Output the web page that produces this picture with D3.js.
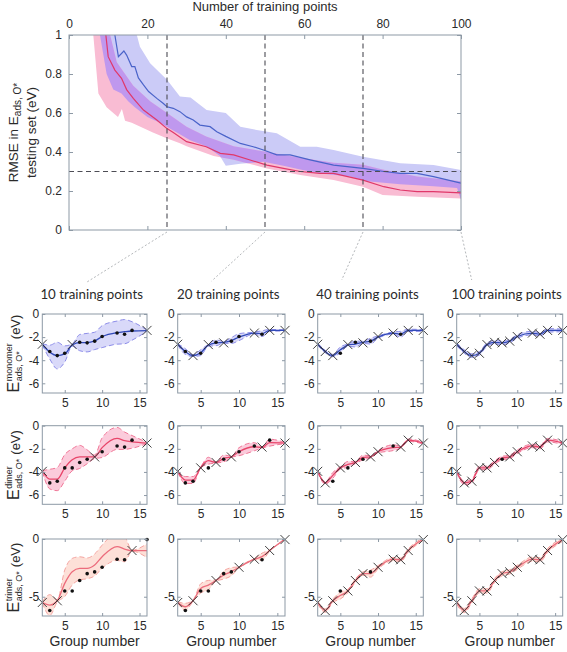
<!DOCTYPE html>
<html><head><meta charset="utf-8">
<script src="https://cdn.jsdelivr.net/npm/d3@7"></script>
<style>body{margin:0;background:#fff}svg{display:block}</style>
</head><body>
<svg id="c" width="567" height="652"></svg>
<script>
// ---------------- DATA: top chart (RMSE vs number of training points) ----------------
const topXTicks = [0, 20, 40, 60, 80, 100];
const topYTicks = [0, 0.2, 0.4, 0.6, 0.8, 1];
const markerN = [25, 50, 75, 100];
const targetRMSE = 0.3;

const blueX = [11.7,12.6,14,14.7,16,16.8,17.7,19,20.3,22.4,24,25,26.6,28.3,30,31.7,33.4,36,37.7,40,43.7,47,49.6,53,56.4,61.5,67.5,75,80.3,84.5,88.8,93,100];
const blueY = [1.0,0.889,0.918,0.897,0.838,0.838,0.78,0.744,0.71,0.675,0.65,0.632,0.624,0.607,0.58,0.564,0.538,0.53,0.504,0.48,0.444,0.427,0.41,0.385,0.385,0.36,0.333,0.316,0.3,0.29,0.29,0.274,0.24];
const redX = [9.4,10,11.7,13.4,14.7,16.4,19,22.4,25,26.6,30,35,38.6,42,46.2,50.5,54.7,59,64,67.5,75,80.3,84.5,88.8,93,100];
const redY = [1.0,0.889,0.82,0.778,0.72,0.675,0.615,0.564,0.52,0.5,0.453,0.427,0.393,0.385,0.359,0.333,0.316,0.3,0.29,0.29,0.256,0.222,0.205,0.197,0.197,0.19];

const blueUpX = [7.9,17.3,18.1,20.7,25,28.3,31,35.1,40,43.7,47.9,53,59,63.2,67.5,75,84.5,93,100];
const blueUpY = [1.02,1.0,0.94,0.855,0.77,0.684,0.68,0.615,0.6,0.53,0.513,0.496,0.427,0.427,0.41,0.376,0.342,0.333,0.308];
const blueLoX = [7.9,9.6,11.3,13.4,15.1,16.8,20,23.2,27.5,30.9,35,38.5,40,43.7,49.6,54.7,59,64,71.7,76,84.5,93,99,100];
const blueLoY = [1.0,0.8,0.72,0.7,0.66,0.63,0.58,0.55,0.5,0.46,0.43,0.38,0.33,0.34,0.35,0.33,0.31,0.29,0.275,0.25,0.235,0.225,0.215,0.155];
const pinkUpX = [6.2,10.5,12.2,16.4,20.7,25,30,35,42,50.5,59,67.5,75,80,88.8,100];
const pinkUpY = [1.02,1.0,0.86,0.74,0.66,0.6,0.53,0.48,0.43,0.4,0.37,0.345,0.335,0.31,0.275,0.25];
const pinkLoX = [6.2,7.5,9.6,11.3,12.5,13.5,14.3,16,21.4,24.9,28.3,30,36.9,42,50.5,59,67.5,75,80,88.8,100];
const pinkLoY = [1.0,0.7,0.63,0.6,0.58,0.62,0.56,0.55,0.5,0.47,0.445,0.43,0.38,0.36,0.316,0.282,0.256,0.222,0.18,0.171,0.162];

// ---------------- DATA: small panels ----------------
const groups = [2,3,4,5,6,7,8,9,10,12,13,14,16];
const xTicksSmall = [5, 10, 15];
const panelTitles = ["10 training points","20 training points","40 training points","100 training points"];
const rowNames = ["monomer","dimer","trimer"];

const monomerTrue = [-2.62,-3.25,-3.6,-3.4,-2.65,-2.45,-2.5,-2.35,-1.95,-1.65,-1.75,-1.42,-1.42];
const dimerTrue   = [-3.95,-4.95,-4.8,-3.65,-3.65,-3.18,-2.9,-2.7,-2.25,-1.75,-1.85,-1.25,-1.5];
const trimerTrue  = [-5.5,-6.2,-5.35,-4.5,-4.5,-3.6,-3.0,-2.85,-2.45,-1.75,-1.8,-1.0,-0.05];

const monoTrain10 = [2,6,16];
const monoTrain20 = [2,4,6,8,12,14,16];
const monoTrain40 = [2,3,4,6,8,10,12,14,16];
const monoTrain100 = [2,3,4,5,6,7,8,9,10,12,13,14,16];
const dimerTrain10 = [2,9,16];
const dimerTrain20 = [2,5,7,9,13,16];
const dimerTrain40 = [2,3,5,7,9,10,13,14,16];
const dimerTrain100 = [2,3,4,5,6,7,9,10,12,13,14,16];
const trimerTrain10 = [2,4,14];
const trimerTrain20 = [2,4,7,10,12,14,16];
const trimerTrain40 = [2,3,4,6,7,8,10,12,13,14,16];
const trimerTrain100 = [2,3,4,5,6,7,8,9,10,12,13,14,16];

const monoMean10 = [-2.62,-3.3,-3.6,-3.46,-2.68,-2.48,-2.48,-2.33,-1.96,-1.61,-1.53,-1.47,-1.44];
const monoSd10   = [0.05,0.6,1.15,0.7,0.1,0.7,0.8,0.75,0.95,1.0,1.05,0.8,0.05];
const monoMean20 = [-2.62,-3.25,-3.6,-3.35,-2.7,-2.5,-2.45,-2.3,-2.0,-1.65,-1.7,-1.42,-1.42];
const monoSd20   = [0.05,0.25,0.08,0.25,0.08,0.25,0.08,0.25,0.3,0.08,0.25,0.08,0.05];
const monoMean40 = [-2.62,-3.25,-3.6,-3.1,-2.7,-2.6,-2.45,-2.35,-2.0,-1.65,-1.75,-1.42,-1.42];
const monoSd40   = [0.08,0.1,0.1,0.25,0.1,0.25,0.1,0.25,0.1,0.1,0.25,0.1,0.08];
const monoMean100 = [-2.62,-3.25,-3.6,-3.4,-2.65,-2.45,-2.5,-2.35,-1.95,-1.65,-1.75,-1.42,-1.42];
const monoSd100   = [0.12,0.15,0.15,0.15,0.15,0.15,0.15,0.15,0.15,0.15,0.15,0.15,0.12];

const dimerMean10 = [-3.93,-4.62,-4.62,-3.65,-2.95,-2.7,-2.69,-2.69,-1.9,-1.1,-1.3,-1.4,-1.5];
const dimerSd10   = [0.05,0.85,1.0,1.15,0.95,1.0,0.6,0.15,0.85,0.95,0.75,0.55,0.05];
const dimerMean20 = [-3.95,-4.7,-4.7,-3.61,-3.03,-3.18,-2.83,-2.69,-2.25,-1.82,-1.88,-1.47,-1.5];
const dimerSd20   = [0.05,0.3,0.3,0.05,0.3,0.05,0.3,0.05,0.35,0.35,0.05,0.3,0.05];
const dimerMean40 = [-3.95,-4.95,-4.3,-3.65,-3.35,-3.18,-2.75,-2.69,-2.25,-1.9,-1.85,-1.25,-1.5];
const dimerSd40   = [0.08,0.1,0.25,0.1,0.25,0.1,0.2,0.1,0.1,0.25,0.1,0.1,0.08];
const dimerMean100 = [-3.95,-4.95,-4.8,-3.65,-3.65,-3.18,-2.8,-2.7,-2.25,-1.75,-1.85,-1.25,-1.5];
const dimerSd100   = [0.12,0.15,0.15,0.15,0.15,0.15,0.15,0.15,0.15,0.15,0.15,0.15,0.12];

const trimerMean10 = [-5.49,-5.72,-5.35,-3.84,-2.83,-2.54,-2.54,-2.25,-1.53,-0.66,-0.87,-1.01,-1.01];
const trimerSd10   = [0.05,0.9,0.1,1.15,1.15,1.0,0.9,0.95,1.0,1.2,1.1,0.05,0.6];
const trimerMean20 = [-5.5,-5.87,-5.35,-4.28,-3.99,-3.6,-3.12,-2.83,-2.45,-1.75,-1.53,-1.0,0.0];
const trimerSd20   = [0.05,0.3,0.05,0.4,0.4,0.05,0.35,0.35,0.05,0.05,0.3,0.05,0.05];
const trimerMean40 = [-5.5,-6.2,-5.35,-4.9,-4.5,-3.6,-3.0,-3.0,-2.45,-1.75,-1.8,-1.0,0.0];
const trimerSd40   = [0.12,0.15,0.15,0.3,0.15,0.15,0.15,0.3,0.15,0.15,0.15,0.15,0.12];
const trimerMean100 = [-5.5,-6.2,-5.35,-4.5,-4.5,-3.6,-3.0,-2.85,-2.45,-1.75,-1.8,-1.0,-0.05];
const trimerSd100   = [0.15,0.18,0.18,0.18,0.18,0.18,0.18,0.18,0.18,0.18,0.18,0.18,0.15];

// ---------------- DRAWING ----------------
const svg = d3.select('#c');
const FONT = "'Liberation Sans', Arial, sans-serif";
const FRAME = '#8d99a5';
const TXT = '#2a2a2a';
const defs = svg.append('defs');
const num = d => String(d);

// ---- top chart ----
const T = {l:69, r:461, t:35, b:230};
const xT = d3.scaleLinear().domain([0,100]).range([T.l, T.r]);
const yT = d3.scaleLinear().domain([0,1]).range([T.b, T.t]);
defs.append('clipPath').attr('id','clipTop').append('rect')
  .attr('x',T.l).attr('y',T.t).attr('width',T.r-T.l).attr('height',T.b-T.t);
const zip = (a,b) => a.map((v,i)=>[v,b[i]]);
const lineT = d3.line().x(d=>xT(d[0])).y(d=>yT(d[1]));
const band = (ux,uy,lx,ly) => lineT(zip(ux,uy).concat(zip(lx,ly).reverse())) + 'Z';
const bluePath = band(blueUpX,blueUpY,blueLoX,blueLoY);
const pinkPath = band(pinkUpX,pinkUpY,pinkLoX,pinkLoY);
defs.append('clipPath').attr('id','clipBlue').append('path').attr('d',bluePath);

const gTop = svg.append('g').attr('clip-path','url(#clipTop)');
gTop.append('path').attr('d',bluePath).attr('fill','#cbcbf7');
gTop.append('path').attr('d',pinkPath).attr('fill','#f9bcd3');
gTop.append('g').attr('clip-path','url(#clipBlue)')
  .append('path').attr('d',pinkPath).attr('fill','#bf98ee');
gTop.append('path').attr('d',lineT(zip(redX,redY))).attr('fill','none')
  .attr('stroke','#e0386a').attr('stroke-width',1.2);
gTop.append('path').attr('d',lineT(zip(blueX,blueY))).attr('fill','none')
  .attr('stroke','#4a63c9').attr('stroke-width',1.2);

// dashed guide lines
const dashCol = '#4d4d55';
markerN.filter(n=>n<100).forEach(n=>{
  svg.append('line').attr('x1',xT(n)).attr('x2',xT(n)).attr('y1',yT(1)).attr('y2',yT(0))
    .attr('stroke',dashCol).attr('stroke-width',1.1).attr('stroke-dasharray','5,3.5');
});
svg.append('line').attr('x1',xT(0)).attr('x2',xT(100)).attr('y1',yT(targetRMSE)).attr('y2',yT(targetRMSE))
  .attr('stroke',dashCol).attr('stroke-width',1.1).attr('stroke-dasharray','5,3.5');

// axes
function styleAxis(g){
  g.select('.domain').remove();
  g.selectAll('.tick line').attr('stroke',FRAME);
  g.selectAll('.tick text').attr('fill',TXT).attr('font-family',FONT).attr('font-size',12);
}
svg.append('g').attr('transform',`translate(0,${T.t})`)
  .call(d3.axisTop(xT).tickValues(topXTicks).tickSize(-4).tickPadding(7).tickFormat(num)).call(styleAxis);
svg.append('g').attr('transform',`translate(0,${T.b})`)
  .call(d3.axisBottom(xT).tickValues(topXTicks).tickSize(-4).tickFormat('')).call(styleAxis);
svg.append('g').attr('transform',`translate(${T.l},0)`)
  .call(d3.axisLeft(yT).tickValues(topYTicks).tickSize(-4).tickPadding(7).tickFormat(num)).call(styleAxis);
svg.append('g').attr('transform',`translate(${T.r},0)`)
  .call(d3.axisRight(yT).tickValues(topYTicks).tickSize(-4).tickFormat('')).call(styleAxis);
svg.append('rect').attr('x',T.l).attr('y',T.t).attr('width',T.r-T.l).attr('height',T.b-T.t)
  .attr('fill','none').attr('stroke',FRAME).attr('stroke-width',1);

svg.append('text').attr('x',(T.l+T.r)/2).attr('y',11).attr('text-anchor','middle')
  .attr('font-family',FONT).attr('font-size',13).attr('fill',TXT).text('Number of training points');

const yl = svg.append('g').attr('transform',`translate(0,${(T.t+T.b)/2}) rotate(-90)`);
const yl1 = yl.append('text').attr('x',0).attr('y',18).attr('text-anchor','middle')
  .attr('font-family',FONT).attr('font-size',13.5).attr('fill',TXT);
yl1.append('tspan').text('RMSE in E');
yl1.append('tspan').attr('dy',3).attr('font-size',10).text('ads, O*');
yl.append('text').attr('x',0).attr('y',36).attr('text-anchor','middle')
  .attr('font-family',FONT).attr('font-size',13.5).attr('fill',TXT).text('testing set (eV)');

// ---- small panels layout ----
const panelCols = [[42.3,147],[177.7,285],[317.7,423.3],[456.7,562.7]];
const panelRows = [[314,393],[425.7,504.3],[539,616]];
const rowDomains = [[-6.84,0],[-6.8,0],[-6.67,0]];
const rowYTicks = [[0,-2,-4,-6],[0,-2,-4,-6],[0,-5]];
const rowStyles = [
  {fill:'#d9d9f9', edge:'#8c8ce8', line:'#3149b8'},
  {fill:'#fbcbdb', edge:'#f07898', line:'#e8456a'},
  {fill:'#fde0d8', edge:'#f4a4a0', line:'#ec6c7c'}
];
const trueVals = [monomerTrue, dimerTrue, trimerTrue];
const trainSets = [
  [monoTrain10, monoTrain20, monoTrain40, monoTrain100],
  [dimerTrain10, dimerTrain20, dimerTrain40, dimerTrain100],
  [trimerTrain10, trimerTrain20, trimerTrain40, trimerTrain100]
];
const means = [
  [monoMean10, monoMean20, monoMean40, monoMean100],
  [dimerMean10, dimerMean20, dimerMean40, dimerMean100],
  [trimerMean10, trimerMean20, trimerMean40, trimerMean100]
];
const sds = [
  [monoSd10, monoSd20, monoSd40, monoSd100],
  [dimerSd10, dimerSd20, dimerSd40, dimerSd100],
  [trimerSd10, trimerSd20, trimerSd40, trimerSd100]
];

// connectors from the top chart to panel titles
const titleY = 299;
const connectorEnds = [[87,282],[211.7,281],[341.7,280],[471.7,280]];
markerN.forEach((n,i)=>{
  svg.append('line').attr('x1',xT(n)).attr('y1',T.b+2).attr('x2',connectorEnds[i][0]).attr('y2',connectorEnds[i][1])
    .attr('stroke','#b5b8bb').attr('stroke-width',1).attr('stroke-dasharray','2,2');
});

panelTitles.forEach((t,c)=>{
  const col = panelCols[c];
  svg.append('text').attr('x',(col[0]+col[1])/2 - 3).attr('y',titleY).attr('text-anchor','middle')
    .attr('font-family',"Lato, 'Open Sans', sans-serif").attr('font-size',13.3).attr('fill',TXT).text(t);
});

const xMark = 'M-4.5,-4.5L4.5,4.5M-4.5,4.5L4.5,-4.5';
panelRows.forEach((row,r)=>{
  const st = rowStyles[r];
  panelCols.forEach((col,c)=>{
    const xs = d3.scaleLinear().domain([2,16]).range(col);
    const ys = d3.scaleLinear().domain(rowDomains[r]).range([row[1],row[0]]);
    const id = `cp${r}${c}`;
    defs.append('clipPath').attr('id',id).append('rect')
      .attr('x',col[0]).attr('y',row[0]).attr('width',col[1]-col[0]).attr('height',row[1]-row[0]);
    const mean = means[r][c], sd = sds[r][c];
    const pts = groups.map((g,i)=>({g, m:mean[i], s:sd[i], v:trueVals[r][i]}));
    const g = svg.append('g');
    const gc = g.append('g').attr('clip-path',`url(#${id})`);
    const curve = d3.curveMonotoneX;
    gc.append('path').attr('d', d3.area().curve(curve).x(d=>xs(d.g)).y0(d=>ys(d.m-d.s)).y1(d=>ys(d.m+d.s))(pts))
      .attr('fill',st.fill);
    [1,-1].forEach(sgn=>{
      gc.append('path').attr('d', d3.line().curve(curve).x(d=>xs(d.g)).y(d=>ys(d.m+sgn*d.s))(pts))
        .attr('fill','none').attr('stroke',st.edge).attr('stroke-width',1).attr('stroke-dasharray','5,3');
    });
    gc.append('path').attr('d', d3.line().curve(curve).x(d=>xs(d.g)).y(d=>ys(d.m))(pts))
      .attr('fill','none').attr('stroke',st.line).attr('stroke-width',1.3);
    const train = trainSets[r][c];
    g.selectAll('circle.d').data(pts.filter(d=>!train.includes(d.g))).join('circle')
      .attr('cx',d=>xs(d.g)).attr('cy',d=>ys(d.v)).attr('r',1.8).attr('fill','#111');
    g.selectAll('path.x').data(pts.filter(d=>train.includes(d.g))).join('path')
      .attr('transform',d=>`translate(${xs(d.g)},${ys(d.v)})`).attr('d',xMark)
      .attr('fill','none').attr('stroke','#2a2a2a').attr('stroke-width',0.9);
    g.append('g').attr('transform',`translate(0,${row[1]})`)
      .call(d3.axisBottom(xs).tickValues(xTicksSmall).tickSize(-3).tickPadding(5).tickFormat(num)).call(styleAxis);
    g.append('g').attr('transform',`translate(0,${row[0]})`)
      .call(d3.axisTop(xs).tickValues(xTicksSmall).tickSize(-3).tickFormat('')).call(styleAxis);
    g.append('g').attr('transform',`translate(${col[0]},0)`)
      .call(d3.axisLeft(ys).tickValues(rowYTicks[r]).tickSize(-3).tickPadding(3).tickFormat(num)).call(styleAxis);
    g.append('g').attr('transform',`translate(${col[1]},0)`)
      .call(d3.axisRight(ys).tickValues(rowYTicks[r]).tickSize(-3).tickFormat('')).call(styleAxis);
    g.append('rect').attr('x',col[0]).attr('y',row[0]).attr('width',col[1]-col[0]).attr('height',row[1]-row[0])
      .attr('fill','none').attr('stroke',FRAME).attr('stroke-width',1);
    if (r===2) {
      g.append('text').attr('x',(col[0]+col[1])/2).attr('y',646).attr('text-anchor','middle')
        .attr('font-family',FONT).attr('font-size',14).attr('fill',TXT).text('Group number');
    }
  });

  // y label: E^{name}_{ads, O*} (eV)
  const cy = (row[0]+row[1])/2;
  const lg = svg.append('g').attr('transform',`translate(0,${cy}) rotate(-90)`);
  const tE = lg.append('text').attr('y',18.5).attr('font-family',FONT).attr('font-size',16).attr('fill',TXT).text('E');
  const tSup = lg.append('text').attr('y',12).attr('font-family',FONT).attr('font-size',9).attr('fill',TXT).text(rowNames[r]);
  const tSub = lg.append('text').attr('y',21.5).attr('font-family',FONT).attr('font-size',9).attr('fill',TXT).text('ads, O*');
  const tEv = lg.append('text').attr('y',20).attr('font-family',FONT).attr('font-size',13).attr('fill',TXT).text('(eV)');
  const wE = tE.node().getComputedTextLength();
  const wS = Math.max(tSup.node().getComputedTextLength(), tSub.node().getComputedTextLength());
  const wV = tEv.node().getComputedTextLength();
  const total = wE + 0.5 + wS + 4 + wV;
  const x0 = -total/2;
  tE.attr('x',x0);
  tSup.attr('x',x0+wE+0.5);
  tSub.attr('x',x0+wE+0.5);
  tEv.attr('x',x0+wE+0.5+wS+4);
});
</script>
</body></html>
